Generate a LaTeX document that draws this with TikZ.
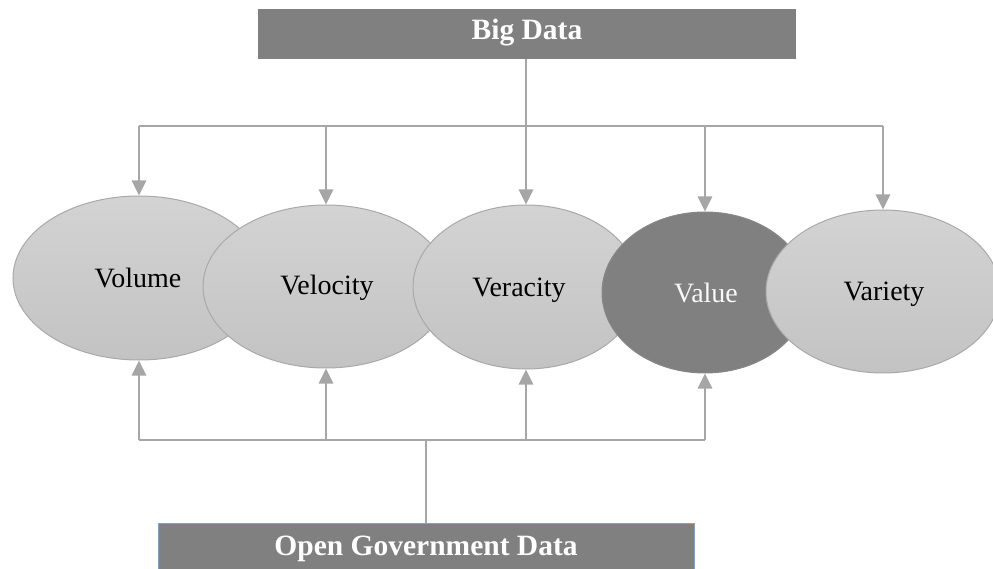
\documentclass[tikz,border=0pt]{standalone}
\usepackage{fontspec}
\setmainfont{Liberation Serif}
\usetikzlibrary{arrows.meta,shapes.geometric}
\definecolor{linegray}{HTML}{A6A6A6}
\definecolor{boxgray}{HTML}{808080}
\definecolor{elltop}{HTML}{D3D3D3}
\definecolor{ellbot}{HTML}{C3C3C3}
\definecolor{ellborder}{HTML}{A9A9A9}
\definecolor{bluefrm}{HTML}{6FA8DC}
\tikzset{
  ell/.style={ellipse, draw=ellborder, line width=1pt, top color=elltop, bottom color=ellbot, inner sep=0pt},
  darkell/.style={ellipse, draw=ellborder!80!black, line width=1pt, fill=boxgray, inner sep=0pt},
  lbl/.style={font=\fontsize{28}{32}\selectfont, text=black},
  wlbl/.style={font=\fontsize{28}{32}\selectfont, text=white!95!gray},
  boxlbl/.style={font=\fontsize{29.5}{34}\selectfont\bfseries, text=white},
  bus/.style={draw=linegray, line width=2.8pt},
  arr/.style={draw=linegray, line width=2.8pt, -{Triangle[width=14pt,length=15pt]}, fill=linegray}
}
\begin{document}
\begin{tikzpicture}[x=1pt,y=-1pt]
\useasboundingbox (0,0) rectangle (993,569);
% top box
\node[fill=boxgray, minimum width=538pt, minimum height=50pt, inner sep=0pt] (bd) at (527,34) {};
\node[boxlbl] (bdt) at (527,33) {Big Data};
% bottom box
\node[fill=boxgray, draw=bluefrm, line width=1pt, minimum width=536pt, minimum height=60pt, inner sep=0pt, anchor=north] (ogd) at (426,523) {};
\node[boxlbl] (ogdt) at (426,549) {Open Government Data};
% ellipses
\node[ell, minimum width=252pt, minimum height=164pt] (vol) at (139,278) {};
\node[lbl] (volt) at (138,278) {Volume};
\node[ell, minimum width=246pt, minimum height=163pt] (vel) at (326,286.5) {};
\node[lbl] (velt) at (327,288) {Velocity};
\node[ell, minimum width=226pt, minimum height=164pt] (ver) at (526,287) {};
\node[lbl] (vert) at (519,290) {Veracity};
\node[darkell, minimum width=206pt, minimum height=161pt] (val) at (705,292.5) {};
\node[wlbl] (valt) at (706,293) {Value};
\node[ell, minimum width=234pt, minimum height=163pt] (var) at (883,291.5) {};
\node[lbl] (vart) at (884,294) {Variety};
% top connectors
\coordinate (tl) at (139,126);
\coordinate (tr) at (883,126);
\draw[bus] (tl) -- (tr);
\draw[arr] (bd.south -| ver.north) -- (ver.north);
\draw[arr] (vol.north |- tl) -- (vol.north);
\draw[arr] (vel.north |- tl) -- (vel.north);
\draw[arr] (val.north |- tl) -- (val.north);
\draw[arr] (var.north |- tl) -- (var.north);
% bottom connectors
\coordinate (bl) at (139,440);
\coordinate (br) at (705,440);
\draw[bus] (bl) -- (br);
\draw[bus] (ogd.north) -- (ogd.north |- bl);
\draw[arr] (vol.south |- bl) -- (vol.south);
\draw[arr] (vel.south |- bl) -- (vel.south);
\draw[arr] (ver.south |- bl) -- (ver.south);
\draw[arr] (val.south |- bl) -- (val.south);
\end{tikzpicture}
\end{document}
